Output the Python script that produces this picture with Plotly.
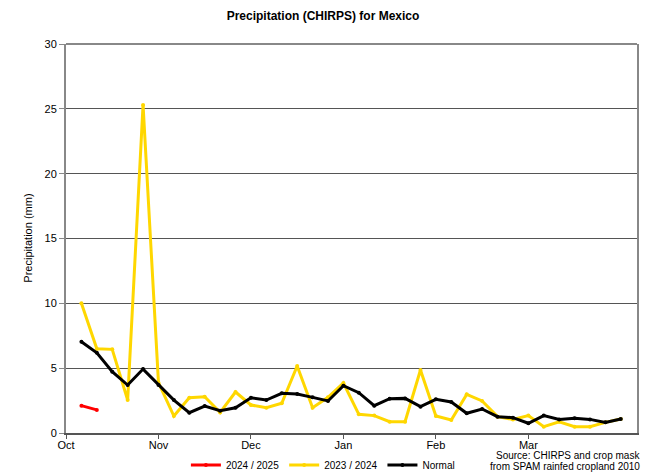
import plotly.graph_objects as go

# pentad index (1 = first pentad of October)
pentads = list(range(1, 37))
month_ticks = [0, 6, 12, 18, 24, 30]
month_labels = ["Oct", "Nov", "Dec", "Jan", "Feb", "Mar"]

season_2024_25 = [2.11, 1.78]
season_2023_24 = [10.0, 6.5, 6.45, 2.54, 25.3, 3.88, 1.31, 2.72, 2.8, 1.59,
                  3.16, 2.16, 1.95, 2.29, 5.17, 1.95, 2.75, 3.85, 1.44, 1.34,
                  0.87, 0.87, 4.86, 1.31, 1.0, 2.98, 2.47, 1.26, 1.05, 1.34,
                  0.49, 0.87, 0.49, 0.49, 0.82, 1.08]
normal = [7.04, 6.19, 4.73, 3.70, 4.93, 3.70, 2.54, 1.57, 2.08, 1.72,
          1.95, 2.72, 2.54, 3.06, 3.0, 2.75, 2.47, 3.65, 3.11, 2.11,
          2.65, 2.67, 2.03, 2.6, 2.39, 1.52, 1.85, 1.26, 1.18, 0.75,
          1.34, 1.05, 1.13, 1.05, 0.82, 1.08]
source_lines = ["Source: CHIRPS and crop mask", "from SPAM rainfed cropland 2010"]

FONT = "Liberation Sans, Arial, sans-serif"

fig = go.Figure()
fig.add_trace(go.Scatter(x=pentads, y=season_2023_24, mode="lines+markers",
                         name="2023 / 2024", legendrank=2,
                         line=dict(color="#FFD700", width=3),
                         marker=dict(size=4, color="#FFD700")))
fig.add_trace(go.Scatter(x=pentads, y=normal, mode="lines+markers",
                         name="Normal", legendrank=3,
                         line=dict(color="#000000", width=3),
                         marker=dict(size=4, color="#000000")))
fig.add_trace(go.Scatter(x=pentads[:len(season_2024_25)], y=season_2024_25,
                         mode="lines+markers", name="2024 / 2025", legendrank=1,
                         line=dict(color="#FF0000", width=3),
                         marker=dict(size=4, color="#FF0000")))

fig.update_layout(
    width=646, height=473,
    margin=dict(l=66, r=9, t=44, b=40, autoexpand=False),
    paper_bgcolor="white", plot_bgcolor="white",
    font=dict(family=FONT, size=11, color="#000"),
    title=dict(text="<b>Precipitation (CHIRPS) for Mexico</b>",
               x=0.5, xanchor="center", y=0.966, yanchor="middle",
               font=dict(size=12, family=FONT)),
    showlegend=True,
    legend=dict(orientation="h", x=0.21, xanchor="left", y=-0.082,
                yanchor="middle", font=dict(size=10),
                itemwidth=30, bgcolor="rgba(0,0,0,0)"),
    xaxis=dict(range=[0, 37.05], tickvals=month_ticks, ticktext=month_labels,
               showgrid=False, zeroline=False, showline=True,
               linecolor="#555", linewidth=1.5, ticks="outside",
               ticklen=4, tickcolor="#555", tickfont=dict(size=11),
               ticklabelstandoff=-3),
    yaxis=dict(range=[0, 30], tickvals=[0, 5, 10, 15, 20, 25, 30],
               showgrid=True, gridcolor="#555", gridwidth=1,
               zeroline=False, showline=True, linecolor="#888",
               linewidth=2, mirror=True, ticks="outside", ticklen=5,
               tickcolor="#888", tickfont=dict(size=11)),
    shapes=[dict(type="line", xref="paper", yref="paper", x0=0, x1=1,
                 y0=1, y1=1, line=dict(color="#888", width=2))],
    annotations=[
        dict(text="Precipitation (mm)", textangle=-90, xref="paper",
             yref="paper", x=-0.068, y=0.5, xanchor="center",
             yanchor="middle", showarrow=False, font=dict(size=11)),
        dict(text=source_lines[0], xref="paper", yref="paper", x=1.009,
             y=-0.0591, xanchor="right", yanchor="middle", showarrow=False,
             font=dict(size=10)),
        dict(text=source_lines[1], xref="paper", yref="paper", x=1.009,
             y=-0.0874, xanchor="right", yanchor="middle", showarrow=False,
             font=dict(size=10)),
    ],
)

fig.write_html("out.html", config={"displayModeBar": False},
               post_script="document.body.style.margin='0px';document.body.style.padding='0px';")
